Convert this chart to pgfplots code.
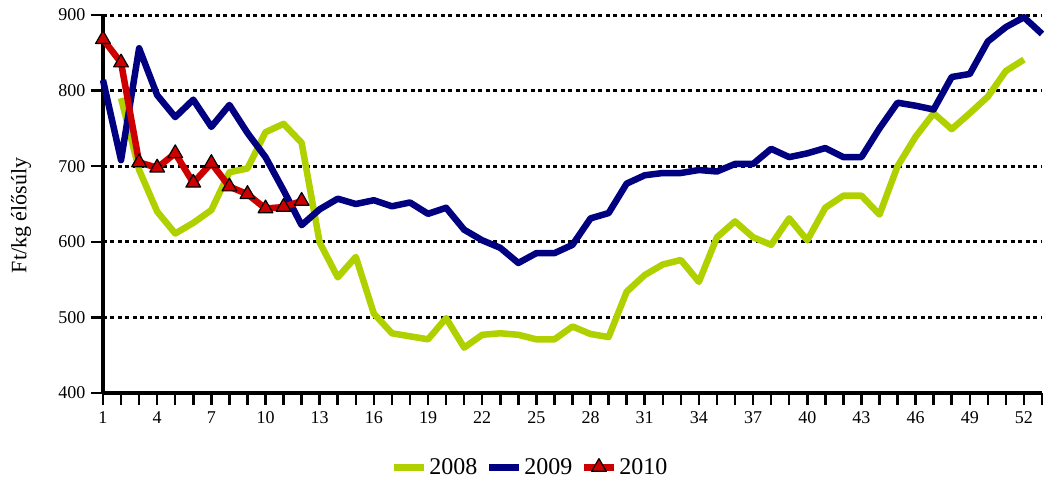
\documentclass[border=0pt]{standalone}
\usepackage{fontspec}
\setmainfont{Liberation Serif}
\usepackage{pgfplots}
\pgfplotsset{compat=1.18}
\definecolor{cgreen}{RGB}{176,208,0}
\definecolor{cblue}{RGB}{0,0,128}
\definecolor{cred}{RGB}{204,0,0}
\begin{document}
\begin{tikzpicture}
\begin{axis}[
  scale only axis,
  width=939pt, height=378pt,
  xmin=1, xmax=53, ymin=400, ymax=900,
  axis lines=left,
  axis line style={line width=3.5pt,-},
  xtick={1,...,53},
  xticklabels={1,,,4,,,7,,,10,,,13,,,16,,,19,,,22,,,25,,,28,,,31,,,34,,,37,,,40,,,43,,,46,,,49,,,52,},
  ytick={400,500,...,900},
  xtick align=outside, ytick align=outside,
  every tick/.style={draw=black, line width=2.5pt, solid},
  major tick length=12pt,
  ymajorgrids,
  major grid style={draw=black, line width=3pt, dash pattern=on 4pt off 3.5pt},
  /pgf/number format/assume math mode=true,
  tick label style={font=\fontsize{18}{18}\selectfont},
  xticklabel style={yshift=-3pt},
  yticklabel style={xshift=-2pt},
  ylabel={Ft/kg élősúly},
  ylabel style={font=\fontsize{22}{22}\selectfont, at={(axis description cs:-0.0873,0.47)}, anchor=center},
  legend columns=3,
  legend style={draw=none, fill=none, font=\fontsize{24}{24}\selectfont,
    at={(axis description cs:0.4547,-0.196)}, anchor=center,
    /tikz/every even column/.append style={column sep=6pt}},
  legend image code/.code={\draw[mark repeat=2,mark phase=2,#1,line width=7pt] plot coordinates {(0pt,0pt) (15pt,0pt) (30pt,0pt)};},
  clip=false,
  line join=round,
]
% tick marks below the x axis and left of the y axis
\addplot[forget plot, only marks, mark=|, mark size=6pt, mark options={black, line width=2.5pt}] coordinates {
(1,392) (2,392) (3,392) (4,392) (5,392) (6,392) (7,392) (8,392) (9,392) (10,392)
(11,392) (12,392) (13,392) (14,392) (15,392) (16,392) (17,392) (18,392) (19,392) (20,392)
(21,392) (22,392) (23,392) (24,392) (25,392) (26,392) (27,392) (28,392) (29,392) (30,392)
(31,392) (32,392) (33,392) (34,392) (35,392) (36,392) (37,392) (38,392) (39,392) (40,392)
(41,392) (42,392) (43,392) (44,392) (45,392) (46,392) (47,392) (48,392) (49,392) (50,392)
(51,392) (52,392) (53,392)};
\addplot[forget plot, only marks, mark=-, mark size=6pt, mark options={black, line width=2.5pt}] coordinates {
(0.668,400) (0.668,500) (0.668,600) (0.668,700) (0.668,800) (0.668,900)};
\addplot[cgreen, line width=6.5pt] coordinates {
(2,790) (3,695) (4,640) (5,611) (6,625) (7,642) (8,692) (9,697) (10,745) (11,756)
(12,731) (13,599) (14,553) (15,580) (16,505) (17,479) (18,475) (19,471) (20,499) (21,460)
(22,477) (23,479) (24,477) (25,471) (26,471) (27,488) (28,478) (29,474) (30,534) (31,556)
(32,570) (33,576) (34,547) (35,606) (36,627) (37,606) (38,596) (39,631) (40,602) (41,645)
(42,661) (43,661) (44,636) (45,700) (46,739) (47,770) (48,749) (49,770) (50,792) (51,826)
(52,841)};
\addlegendentry{2008}
\addplot[cblue, line width=6.5pt] coordinates {
(1,814) (2,708) (3,856) (4,794) (5,765) (6,788) (7,752) (8,781) (9,744) (10,712)
(11,668) (12,622) (13,643) (14,657) (15,650) (16,655) (17,647) (18,652) (19,637) (20,645)
(21,616) (22,602) (23,592) (24,572) (25,585) (26,585) (27,596) (28,631) (29,638) (30,677)
(31,688) (32,691) (33,691) (34,695) (35,693) (36,703) (37,703) (38,723) (39,712) (40,717)
(41,724) (42,712) (43,712) (44,750) (45,784) (46,780) (47,775) (48,818) (49,822) (50,865)
(51,884) (52,897) (53,875)};
\addlegendentry{2009}
\addplot[cred, line width=6.5pt, mark=triangle*, mark size=8.5pt,
  mark options={fill=cred, draw=black, line width=1.2pt, solid}] coordinates {
(1,868) (2,837) (3,705) (4,698) (5,717) (6,678) (7,704) (8,673) (9,663) (10,644)
(11,646) (12,654)};
\addlegendentry{2010}
\end{axis}
\pgfresetboundingbox
\path[use as bounding box] (current axis.south west) ++(-103pt,-90pt) rectangle ++(1045pt,483pt);
\end{tikzpicture}
\end{document}
